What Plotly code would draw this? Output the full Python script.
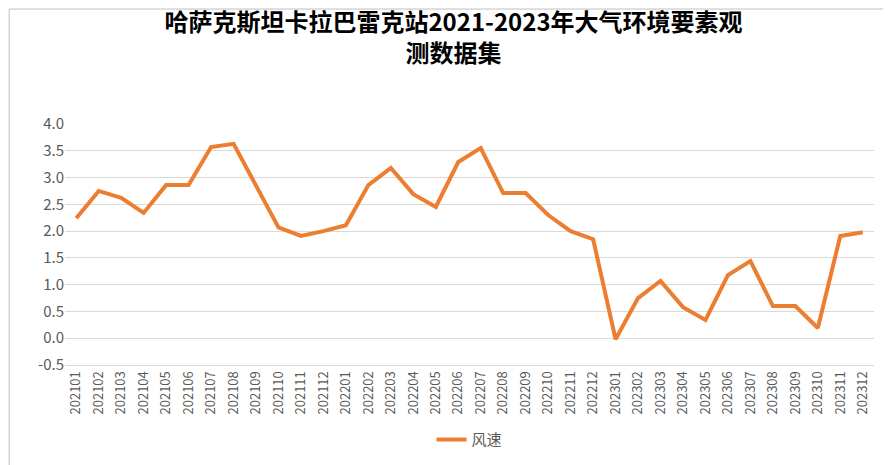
import plotly.graph_objects as go

months = [f"{y}{m:02d}" for y in (2021, 2022, 2023) for m in range(1, 13)]
wind = [2.24, 2.75, 2.62, 2.34, 2.86, 2.86, 3.57, 3.63, 2.85, 2.07, 1.91, 2.0,
        2.11, 2.86, 3.18, 2.69, 2.45, 3.29, 3.55, 2.71, 2.71, 2.30, 2.0, 1.85,
        -0.02, 0.75, 1.07, 0.58, 0.34, 1.18, 1.44, 0.60, 0.60, 0.19, 1.91, 1.98]
yticks = [-0.5, 0, 0.5, 1, 1.5, 2, 2.5, 3, 3.5, 4]
ylabels = ["-0.5", "0.0", "0.5", "1.0", "1.5", "2.0", "2.5", "3.0", "3.5", "4.0"]

fig = go.Figure(go.Scatter(x=months, y=wind, mode="lines", name="风速",
                           line=dict(color="#ED7D31", width=4)))
fig.update_layout(
    width=891, height=465, paper_bgcolor="white", plot_bgcolor="white",
    font=dict(family="Noto Sans CJK SC", color="#595959"),
    title=dict(text="<b>哈萨克斯坦卡拉巴雷克站2021-2023年大气环境要素观<br>测数据集</b>",
               x=0.5, xanchor="center", yref="container", y=0.95, yanchor="top",
               font=dict(size=24, color="#000000", family="Noto Sans CJK SC")),
    margin=dict(l=57, r=25, t=116, b=108, autoexpand=False),
    showlegend=True,
    legend=dict(orientation="h", x=0.5, xanchor="center", y=-0.31, yanchor="middle",
                font=dict(size=15, color="#595959")),
    xaxis=dict(type="category", range=[-0.5, 35.5], tickangle=-90,
               tickfont=dict(size=13, color="#595959"), automargin=False,
               showgrid=False, showline=True, linecolor="#D9D9D9", ticks=""),
    yaxis=dict(range=[-0.5, 4.0], tickvals=yticks, ticktext=ylabels, automargin=False,
               tickfont=dict(size=15, color="#595959"),
               showgrid=True, gridcolor="#D9D9D9", zeroline=False, ticks=""),
    shapes=[dict(type="rect", xref="paper", yref="paper", x0=-0.069, x1=1.028,
                 y0=-0.44, y1=1.477, line=dict(color="#BFBFBF", width=1))],
)
fig.write_html("out.html")
